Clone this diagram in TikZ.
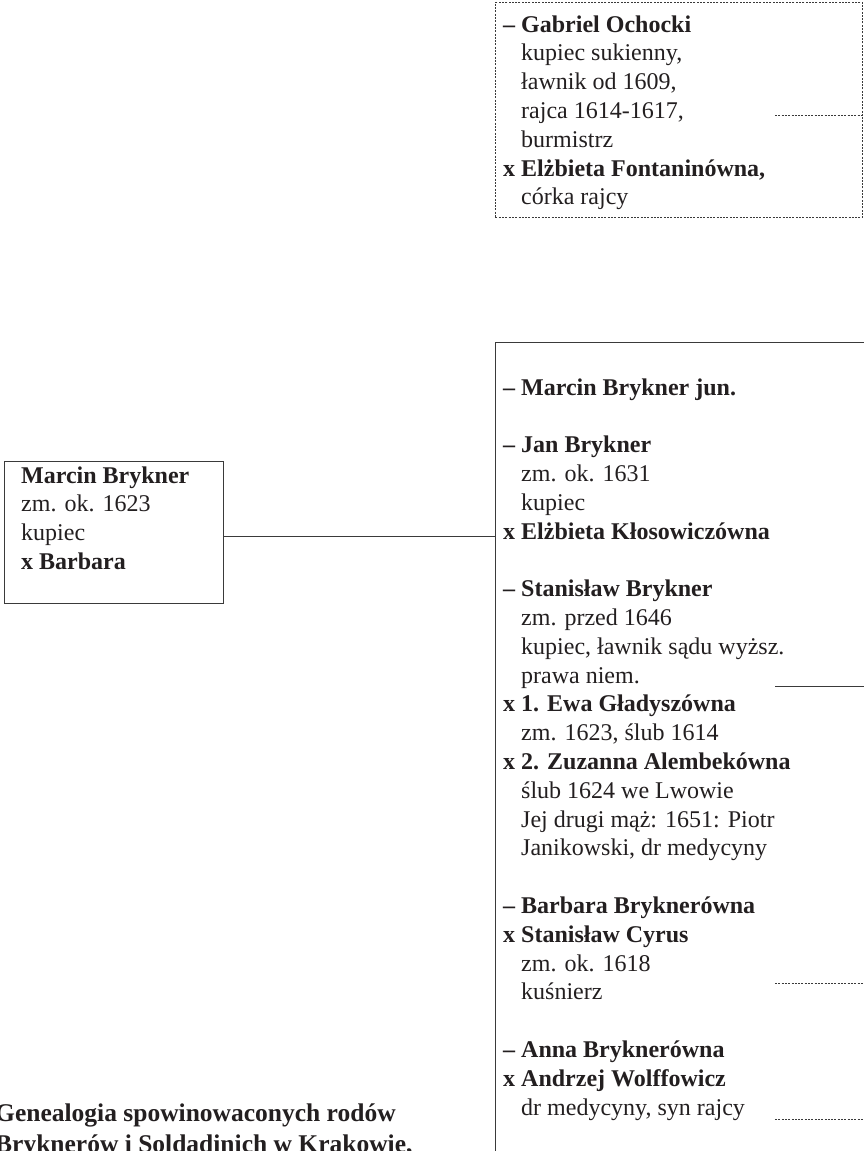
\documentclass[tikz,border=0pt]{standalone}
\usepackage{fontspec}
\setmainfont{Liberation Serif}
\definecolor{ink}{HTML}{231F20}
\definecolor{rule}{HTML}{3A3A3A}
\newcommand\ind{\hspace*{18pt}}
\tikzset{
  solidbox/.style={draw=rule, line width=0.9pt, inner sep=0pt, anchor=north west},
  dotbox/.style={draw=rule, line width=0.9pt, dash pattern=on 2pt off 1.3pt, inner sep=0pt, anchor=north west},
  txt/.style={text=ink, inner sep=0pt, anchor=base west, font=\fontsize{24}{28.8}\selectfont},
  ttl/.style={text=ink, inner sep=0pt, anchor=base west, font=\bfseries\fontsize{25.5}{31}\selectfont},
  link/.style={draw=rule, line width=0.9pt},
  dotlink/.style={draw=rule, line width=0.9pt, dash pattern=on 2pt off 1.3pt},
}
\begin{document}
\begin{tikzpicture}[x=1pt,y=-1pt]
\useasboundingbox (0,0) rectangle (863,1151);
\fill[white] (0,0) rectangle (863,1151);

% Ochocki box (dotted)
\node[dotbox, minimum width=367pt, minimum height=215pt] (och) at (495,2) {};
\node[txt] (ochtxt) at (503,32) {\begin{tabular}[t]{@{}l@{}}
\textbf{– Gabriel Ochocki}\\
\ind kupiec sukienny,\\
\ind ławnik od 1609,\\
\ind rajca 1614-1617,\\
\ind burmistrz\\
\textbf{x Elżbieta Fontaninówna,}\\
\ind córka rajcy
\end{tabular}};
\coordinate (s1) at (775,115);
\draw[dotlink] (s1) -- (s1 -| och.east);

% Marcin Brykner box
\node[solidbox, minimum width=219pt, minimum height=142pt] (mb) at (4,461) {};
\node[txt] (mbtxt) at (21,483) {\begin{tabular}[t]{@{}l@{}}
\textbf{Marcin Brykner}\\
zm. ok. 1623\\
kupiec\\
\textbf{x Barbara}
\end{tabular}};

% Children box (extends beyond the picture)
\node[solidbox, minimum width=420pt, minimum height=880pt] (kids) at (495,342) {};
\node[txt] (kidstxt) at (503,395) {\begin{tabular}[t]{@{}l@{}}
\textbf{– Marcin Brykner jun.}\\
\\
\textbf{– Jan Brykner}\\
\ind zm. ok. 1631\\
\ind kupiec\\
\textbf{x Elżbieta Kłosowiczówna}\\
\\
\textbf{– Stanisław Brykner}\\
\ind zm. przed 1646\\
\ind kupiec, ławnik sądu wyższ.\\
\ind prawa niem.\\
\textbf{x 1. Ewa Gładyszówna}\\
\ind zm. 1623, ślub 1614\\
\textbf{x 2. Zuzanna Alembekówna}\\
\ind ślub 1624 we Lwowie\\
\ind Jej drugi mąż: 1651: Piotr\\
\ind Janikowski, dr medycyny\\
\\
\textbf{– Barbara Bryknerówna}\\
\textbf{x Stanisław Cyrus}\\
\ind zm. ok. 1618\\
\ind kuśnierz\\
\\
\textbf{– Anna Bryknerówna}\\
\textbf{x Andrzej Wolffowicz}\\
\ind dr medycyny, syn rajcy
\end{tabular}};

% connector parent -> children
\coordinate (j) at (223,536);
\draw[link] (mb.east |- j) -- (j -| kids.west);

% stubs leading out of the picture
\coordinate (s2) at (775,686);
\coordinate (s2e) at (875,686);
\draw[link] (s2) -- (s2e);
\coordinate (s3) at (775,983);
\coordinate (s3e) at (875,983);
\draw[dotlink] (s3) -- (s3e);
\coordinate (s4) at (775,1119);
\coordinate (s4e) at (875,1119);
\draw[dotlink] (s4) -- (s4e);

% title (cropped)
\node[ttl] (title) at (-5,1121) {\begin{tabular}[t]{@{}l@{}}
Genealogia spowinowaconych rodów\\
Bryknerów i Soldadinich w Krakowie,
\end{tabular}};
\end{tikzpicture}
\end{document}
